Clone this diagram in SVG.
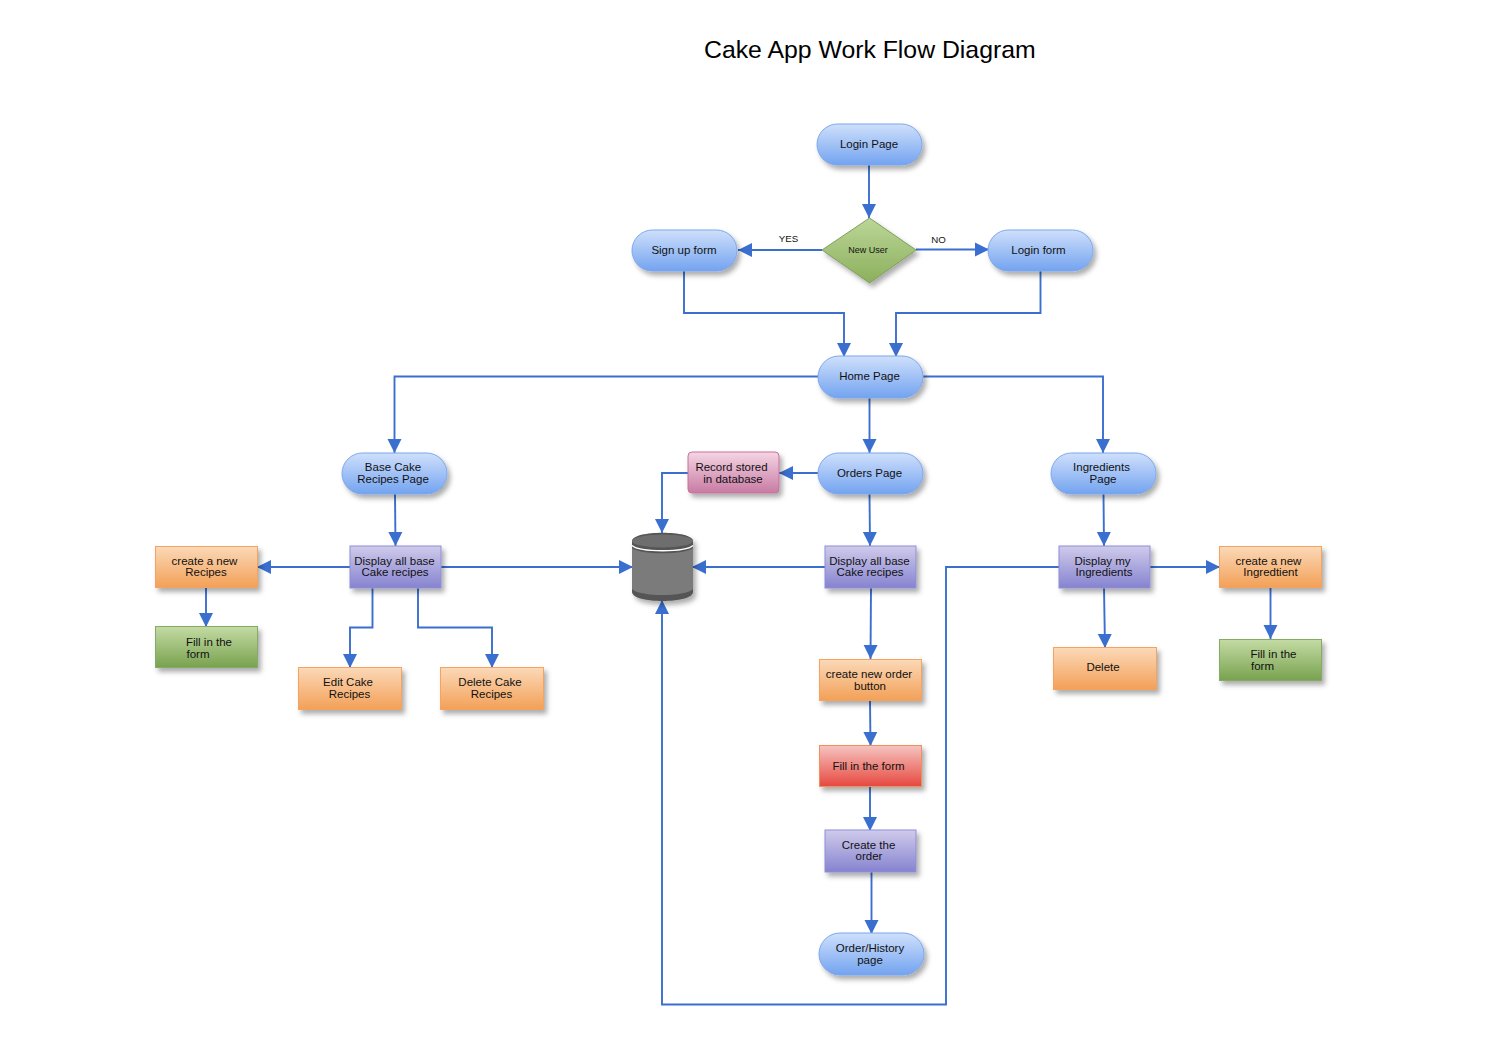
<svg xmlns="http://www.w3.org/2000/svg" width="1507" height="1059" viewBox="0 0 1507 1059">
<style>
text{font-family:"Liberation Sans",Arial,sans-serif;font-size:11.5px;fill:#111;text-anchor:middle}
.title{font-size:24.8px;text-anchor:start;fill:#000}
.small{font-size:9px}
.lab{font-size:9.7px}
.s{filter:url(#sh)}
.blue{fill:url(#gBlue);stroke:#7ba6ee;stroke-width:1}
.purple{fill:url(#gPurple);stroke:#8e8ed8;stroke-width:1}
.orange{fill:url(#gOrange);stroke:#f4a460;stroke-width:1}
.green{fill:url(#gGreen);stroke:#85ab65;stroke-width:1}
.red{fill:url(#gRed);stroke:#f0905a;stroke-width:1}
.pink{fill:url(#gPink);stroke:#c9709c;stroke-width:1}
.c{fill:none;stroke:#3a6fcf;stroke-width:1.9;marker-end:url(#arr)}
</style>
<defs>
<filter id="sh" x="-20%" y="-20%" width="150%" height="160%"><feDropShadow dx="3" dy="4" stdDeviation="2.800" flood-color="#000" flood-opacity="0.32"/></filter>
<linearGradient id="gBlue" x1="0" y1="0" x2="0" y2="1"><stop offset="0" stop-color="#cfe0fb"/><stop offset="1" stop-color="#73a3f0"/></linearGradient>
<linearGradient id="gPurple" x1="0" y1="0" x2="0" y2="1"><stop offset="0" stop-color="#cfcbeb"/><stop offset="1" stop-color="#8683d0"/></linearGradient>
<linearGradient id="gOrange" x1="0" y1="0" x2="0" y2="1"><stop offset="0" stop-color="#fbd9b8"/><stop offset="1" stop-color="#f3a057"/></linearGradient>
<linearGradient id="gGreen" x1="0" y1="0" x2="0" y2="1"><stop offset="0" stop-color="#c4dba4"/><stop offset="1" stop-color="#78a24f"/></linearGradient>
<linearGradient id="gDia" x1="0" y1="0" x2="0" y2="1"><stop offset="0" stop-color="#bcd698"/><stop offset="1" stop-color="#8bb05c"/></linearGradient>
<linearGradient id="gRed" x1="0" y1="0" x2="0" y2="1"><stop offset="0" stop-color="#f6c4c0"/><stop offset="1" stop-color="#e6483f"/></linearGradient>
<linearGradient id="gPink" x1="0" y1="0" x2="0" y2="1"><stop offset="0" stop-color="#f5d5e5"/><stop offset="1" stop-color="#c87ba3"/></linearGradient>
<marker id="arr" markerUnits="userSpaceOnUse" markerWidth="16" markerHeight="16" refX="14" refY="7.500" orient="auto"><path d="M0,0.500L14,7.500L0,14.500Z" fill="#3a6fcf"/></marker>
</defs>

<text class="title" x="704" y="58">Cake App Work Flow Diagram</text>

<g id="connectors">
<path class="c" d="M869,165V218"/>
<path class="c" d="M822,250H738"/>
<path class="c" d="M916,249.500H989"/>
<path class="c" d="M684,271V313H844V357"/>
<path class="c" d="M1040.500,271V313H896V357"/>
<path class="c" d="M818,376.500H394.500V453"/>
<path class="c" d="M923,376.500H1103V453"/>
<path class="c" d="M869.500,398V453"/>
<path class="c" d="M818,473H779"/>
<path class="c" d="M688,473H662V533"/>
<path class="c" d="M869.500,494L870,546"/>
<path class="c" d="M825,567H692"/>
<path class="c" d="M395,494L395.500,546"/>
<path class="c" d="M350,567H257"/>
<path class="c" d="M441,567H633"/>
<path class="c" d="M206,588V627"/>
<path class="c" d="M372.500,588V627.500H350V668"/>
<path class="c" d="M418,588V627.500H492V668"/>
<path class="c" d="M871,588L870.500,659"/>
<path class="c" d="M870,701L870.500,746"/>
<path class="c" d="M870,787V831"/>
<path class="c" d="M871.500,872L871.500,934"/>
<path class="c" d="M1103.500,494L1104,546"/>
<path class="c" d="M1150,567H1220"/>
<path class="c" d="M1104,588L1105,648"/>
<path class="c" d="M1270.500,588V639"/>
<path class="c" d="M1059,567H946V1004.500H662V600"/>
</g>

<g id="login-page"><rect class="blue s" x="817" y="124" width="105" height="41" rx="20.500"/><text x="869" y="148">Login Page</text></g>
<g id="new-user"><path d="M869.500,218L916,250L869.500,283L822,250Z" fill="url(#gDia)" stroke="#7f9f5c" class="s"/><text class="small" x="868" y="253">New User</text></g>
<g id="yes-label"><text class="lab" x="788.500" y="242">YES</text></g>
<g id="no-label"><text class="lab" x="938.500" y="243">NO</text></g>
<g id="sign-up-form"><rect class="blue s" x="632" y="230" width="105" height="41" rx="20.500"/><text x="684" y="254">Sign up form</text></g>
<g id="login-form"><rect class="blue s" x="988" y="230" width="105" height="41" rx="20.500"/><text x="1038.500" y="254">Login form</text></g>
<g id="home-page"><rect class="blue s" x="818" y="356" width="105" height="42" rx="21"/><text x="869.500" y="380">Home Page</text></g>
<g id="base-cake-page"><rect class="blue s" x="342" y="453" width="105" height="41" rx="20.500"/><text x="393" y="471">Base Cake</text><text x="393" y="483">Recipes Page</text></g>
<g id="orders-page"><rect class="blue s" x="818" y="453" width="105" height="41" rx="20.500"/><text x="869.500" y="477">Orders Page</text></g>
<g id="ingredients-page"><rect class="blue s" x="1051" y="453" width="105" height="41" rx="20.500"/><text x="1101.500" y="471">Ingredients</text><text x="1103" y="483">Page</text></g>
<g id="record-stored"><rect class="pink s" x="688" y="452" width="91" height="41" rx="4"/><text x="731.500" y="471">Record stored</text><text x="733" y="483">in database</text></g>
<g id="database">
<path class="s" d="M632,541C632,530 693,530 693,541V592C693,604 632,604 632,592Z" fill="#555"/>
<path d="M632,548C640,555 685,555 693,548V589C685,597 640,597 632,589Z" fill="#7b7b7b"/>
<path d="M632,545.500C640,552.500 685,552.500 693,545.500" fill="none" stroke="#fff" stroke-width="1.500"/>
<ellipse cx="662.500" cy="541" rx="30.500" ry="6.500" fill="#6e6e6e"/>
</g>
<g id="display-base-left"><rect class="purple s" x="350" y="546" width="91" height="42"/><text x="394.500" y="565">Display all base</text><text x="395" y="576">Cake recipes</text></g>
<g id="display-base-mid"><rect class="purple s" x="825" y="546" width="91" height="42"/><text x="869.500" y="565">Display all base</text><text x="870" y="576">Cake recipes</text></g>
<g id="display-ingredients"><rect class="purple s" x="1059" y="546" width="91" height="42"/><text x="1102.500" y="565">Display my</text><text x="1104" y="576">Ingredients</text></g>
<g id="create-recipes"><rect class="orange s" x="155.500" y="546.500" width="102" height="41"/><text x="204.500" y="565">create a new</text><text x="206" y="576">Recipes</text></g>
<g id="fill-left"><rect class="green s" x="155.500" y="626.500" width="102" height="41"/><text x="209" y="646">Fill in the</text><text x="198" y="658">form</text></g>
<g id="edit-recipes"><rect class="orange s" x="298.500" y="667.500" width="103" height="42"/><text x="348" y="686">Edit Cake</text><text x="349.500" y="698">Recipes</text></g>
<g id="delete-recipes"><rect class="orange s" x="440.500" y="667.500" width="103" height="42"/><text x="490" y="686">Delete Cake</text><text x="491.500" y="698">Recipes</text></g>
<g id="create-order-button"><rect class="orange s" x="819.500" y="659.500" width="102" height="41"/><text x="869" y="678">create new order</text><text x="870" y="690">button</text></g>
<g id="fill-order"><rect class="red s" x="819.500" y="745.500" width="102" height="41"/><text x="868.500" y="770">Fill in the form</text></g>
<g id="create-order"><rect class="purple s" x="825" y="830" width="91" height="42"/><text x="868.500" y="849">Create the</text><text x="869" y="860">order</text></g>
<g id="order-history"><rect class="blue s" x="819" y="933" width="105" height="42" rx="21"/><text x="870" y="952">Order/History</text><text x="870" y="964">page</text></g>
<g id="delete-ingredient"><rect class="orange s" x="1053.500" y="647.500" width="103" height="42"/><text x="1103" y="671">Delete</text></g>
<g id="create-ingredient"><rect class="orange s" x="1219.500" y="546.500" width="102" height="41"/><text x="1268.500" y="565">create a new</text><text x="1270.500" y="576">Ingredtient</text></g>
<g id="fill-right"><rect class="green s" x="1219.500" y="639.500" width="102" height="41"/><text x="1273.500" y="658">Fill in the</text><text x="1262.500" y="670">form</text></g>
</svg>
